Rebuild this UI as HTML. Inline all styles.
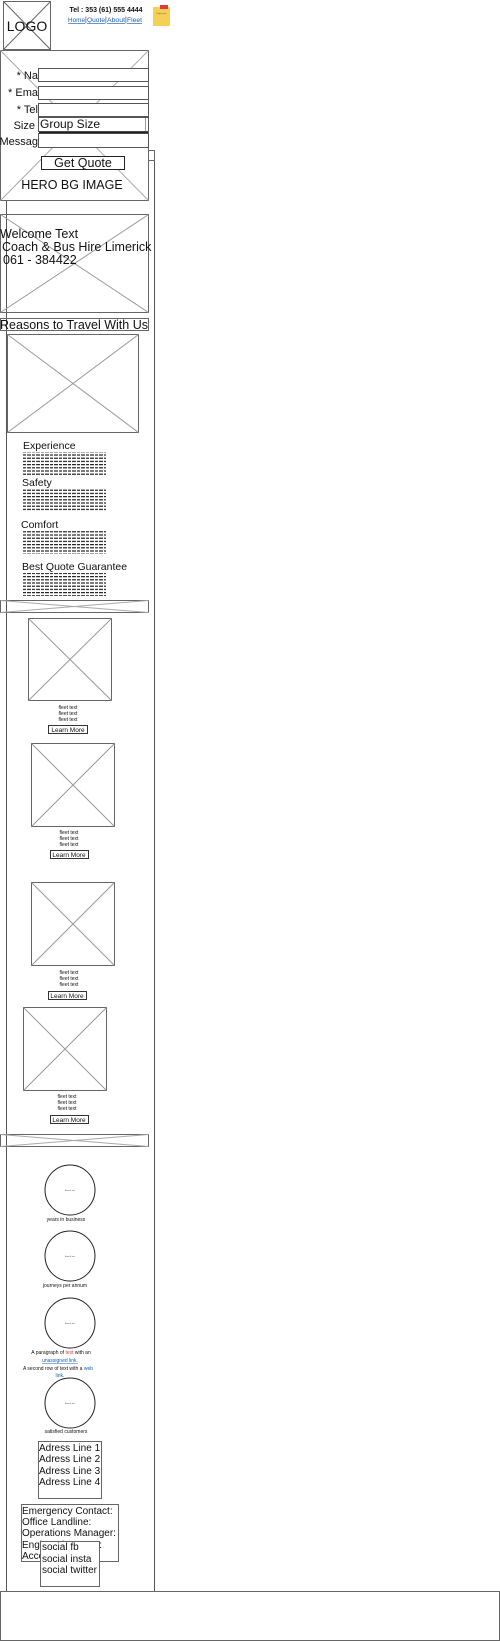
<!DOCTYPE html>
<html><head><meta charset="utf-8"><style>
html,body{margin:0;padding:0;background:#fff;}
svg{display:block;font-family:"Liberation Sans",sans-serif;}
</style></head><body>
<svg width="500" height="1641" viewBox="0 0 500 1641" xmlns="http://www.w3.org/2000/svg">
<defs>
<pattern id="txt" width="9" height="3.2" patternUnits="userSpaceOnUse"><rect x="0" y="0" width="4" height="1.2" fill="#222"/><rect x="5" y="0" width="3" height="1.2" fill="#222"/></pattern>
</defs>
<g fill="none" stroke="#666" stroke-width="1">
<rect x="3.5" y="1.5" width="47" height="48"/><line x1="3.5" y1="1.5" x2="50.5" y2="49.5"/><line x1="50.5" y1="1.5" x2="3.5" y2="49.5"/>
<line x1="6.5" y1="200" x2="6.5" y2="1591" stroke="#555"/>
<line x1="154.5" y1="150" x2="154.5" y2="1591" stroke="#555"/>
<rect x="148.5" y="150.5" width="6" height="10"/>
<rect x="0.5" y="50.5" width="148" height="150"/><line x1="0.5" y1="50.5" x2="148.5" y2="200.5" stroke="#aaa"/><line x1="148.5" y1="50.5" x2="0.5" y2="200.5" stroke="#aaa"/>
<rect x="0.5" y="214.5" width="148" height="98"/><line x1="0.5" y1="214.5" x2="148.5" y2="312.5" stroke="#999"/><line x1="148.5" y1="214.5" x2="0.5" y2="312.5" stroke="#999"/>
<rect x="0.5" y="318.5" width="148" height="12"/>
<rect x="7.5" y="334.5" width="131" height="98"/><line x1="7.5" y1="334.5" x2="138.5" y2="432.5" stroke="#999"/><line x1="138.5" y1="334.5" x2="7.5" y2="432.5" stroke="#999"/>
<rect x="0.5" y="600.5" width="148" height="12"/><line x1="0.5" y1="600.5" x2="148.5" y2="612.5" stroke="#aaa"/><line x1="148.5" y1="600.5" x2="0.5" y2="612.5" stroke="#aaa"/>
<rect x="0.5" y="1134.5" width="148" height="12"/><line x1="0.5" y1="1134.5" x2="148.5" y2="1146.5" stroke="#aaa"/><line x1="148.5" y1="1134.5" x2="0.5" y2="1146.5" stroke="#aaa"/>
<rect x="28.5" y="618.5" width="83" height="82"/><line x1="28.5" y1="618.5" x2="111.5" y2="700.5" stroke="#999"/><line x1="111.5" y1="618.5" x2="28.5" y2="700.5" stroke="#999"/>
<rect x="31.5" y="743.5" width="83" height="83"/><line x1="31.5" y1="743.5" x2="114.5" y2="826.5" stroke="#999"/><line x1="114.5" y1="743.5" x2="31.5" y2="826.5" stroke="#999"/>
<rect x="31.5" y="882.5" width="83" height="83"/><line x1="31.5" y1="882.5" x2="114.5" y2="965.5" stroke="#999"/><line x1="114.5" y1="882.5" x2="31.5" y2="965.5" stroke="#999"/>
<rect x="23.5" y="1007.5" width="83" height="83"/><line x1="23.5" y1="1007.5" x2="106.5" y2="1090.5" stroke="#999"/><line x1="106.5" y1="1007.5" x2="23.5" y2="1090.5" stroke="#999"/>
<g stroke="#333"><rect x="48.5" y="725.5" width="39" height="8"/><rect x="50.5" y="850.5" width="38" height="8"/><rect x="48.5" y="991.5" width="38" height="8"/><rect x="50.5" y="1115.5" width="38" height="8"/></g>
<g stroke="#222"><circle cx="70" cy="1190" r="25"/><circle cx="70" cy="1256" r="25"/><circle cx="70" cy="1323" r="25"/><circle cx="70" cy="1403" r="25"/></g>
<rect x="38.5" y="1441.5" width="63" height="57"/>
<rect x="21.5" y="1504.5" width="97" height="57"/>
<rect x="0.5" y="1591.5" width="499" height="49"/>
</g>
<g fill="#fff" stroke="#555">
<rect x="38.5" y="68.5" width="110" height="13"/><rect x="38.5" y="86.5" width="110" height="13"/><rect x="38.5" y="103.5" width="110" height="13"/>
<rect x="38.5" y="117.5" width="110" height="14"/><rect x="38.5" y="133.5" width="110" height="14"/>
<rect x="41.5" y="156.5" width="83" height="13" stroke="#222"/>
</g>
<line x1="39" y1="132.5" x2="148" y2="132.5" stroke="#222" stroke-width="1.5"/>
<line x1="145.5" y1="118" x2="145.5" y2="131" stroke="#999"/>
<rect x="153" y="7" width="17" height="19" fill="#f6cf55"/><rect x="160" y="5" width="8" height="4" fill="#e03a3a"/>
<text x="161.5" y="14" font-size="2" text-anchor="middle" fill="#555">Page notes</text>
<text x="27" y="31" font-size="14" text-anchor="middle" fill="#111">LOGO</text>
<text x="106" y="12" font-size="7" font-weight="bold" text-anchor="middle" fill="#111">Tel : 353 (61) 555 4444</text>
<g font-size="6.5" fill="#1a5fb4">
<text x="68" y="22" textLength="17" lengthAdjust="spacingAndGlyphs" text-decoration="underline">Home</text>
<text x="87" y="22" textLength="18" lengthAdjust="spacingAndGlyphs" text-decoration="underline">Quote</text>
<text x="107" y="22" textLength="18" lengthAdjust="spacingAndGlyphs" text-decoration="underline">About</text>
<text x="127" y="22" textLength="15" lengthAdjust="spacingAndGlyphs" text-decoration="underline">Fleet</text>
</g>
<g font-size="7" fill="#333"><text x="85" y="22">|</text><text x="105" y="22">|</text><text x="125" y="22">|</text></g>
<g font-size="11" fill="#111" text-anchor="end"><text x="38" y="79">* Na</text><text x="38" y="96">* Ema</text><text x="38" y="113">* Tel</text><text x="35" y="129">Size</text><text x="38" y="145">Messag</text></g>
<text x="40" y="128" font-size="12" fill="#111">Group Size</text>
<text x="83" y="167" font-size="12.5" text-anchor="middle" fill="#111">Get Quote</text>
<text x="72" y="189" font-size="12.5" text-anchor="middle" fill="#111">HERO BG IMAGE</text>
<g font-size="12.5" fill="#111"><text x="0" y="238">Welcome Text</text><text x="2" y="251">Coach &amp; Bus Hire Limerick</text><text x="3" y="264">061 - 384422</text></g>
<text x="74" y="329" font-size="12.5" text-anchor="middle" fill="#111">Reasons to Travel With Us</text>
<g font-size="10.5" fill="#111"><text x="23" y="449">Experience</text><text x="22" y="486">Safety</text><text x="21" y="528">Comfort</text><text x="22" y="570">Best Quote Guarantee</text></g>
<g fill="url(#txt)">
<rect x="23" y="452" width="83" height="23"/><rect x="22" y="489" width="84" height="23"/><rect x="22" y="531" width="84" height="23"/><rect x="22" y="573" width="84" height="23"/>
</g>
<g font-size="5" fill="#111" text-anchor="middle">
<text x="68" y="709">fleet text</text><text x="68" y="715">fleet text</text><text x="68" y="721">fleet text</text>
<text x="69" y="834">fleet text</text><text x="69" y="840">fleet text</text><text x="69" y="846">fleet text</text>
<text x="69" y="974">fleet text</text><text x="69" y="980">fleet text</text><text x="69" y="986">fleet text</text>
<text x="67" y="1098">fleet text</text><text x="67" y="1104">fleet text</text><text x="67" y="1110">fleet text</text>
</g>
<g font-size="6.5" fill="#111" text-anchor="middle"><text x="68" y="732">Learn More</text><text x="69" y="857">Learn More</text><text x="67" y="998">Learn More</text><text x="69" y="1122">Learn More</text></g>
<g font-size="2" fill="#555" text-anchor="middle"><text x="70" y="1191">Auto-fit text</text><text x="70" y="1257">Auto-fit text</text><text x="70" y="1324">Auto-fit text</text><text x="70" y="1404">Auto-fit text</text></g>
<g font-size="5" fill="#111" text-anchor="middle">
<text x="66" y="1221">years in business</text><text x="65" y="1287">journeys per annum</text>
<text x="61" y="1354">A paragraph of <tspan fill="#e03a3a">text</tspan> with an</text>
<text x="60" y="1362" fill="#1a5fb4" text-decoration="underline">unassigned link.</text>
<text x="58" y="1370">A second row of text with a <tspan fill="#1a5fb4">web</tspan></text>
<text x="60" y="1377" fill="#1a5fb4">link.</text>
<text x="66" y="1433">satisfied customers</text>
</g>
<g font-size="10" fill="#111"><text x="39" y="1451">Adress Line 1</text><text x="39" y="1462">Adress Line 2</text><text x="39" y="1474">Adress Line 3</text><text x="39" y="1485">Adress Line 4</text></g>
<g font-size="10" fill="#111"><text x="22" y="1514">Emergency Contact:</text><text x="22" y="1525">Office Landline:</text><text x="22" y="1536">Operations Manager:</text><text x="22" y="1548">Engineering Dept:</text><text x="22" y="1559">Accounts:</text></g>
<rect x="40.5" y="1541.5" width="59" height="45" fill="#fff" stroke="#666"/>
<g font-size="10" fill="#111"><text x="42" y="1550">social fb</text><text x="42" y="1562">social insta</text><text x="42" y="1573">social twitter</text></g>
</svg>
</body></html>
